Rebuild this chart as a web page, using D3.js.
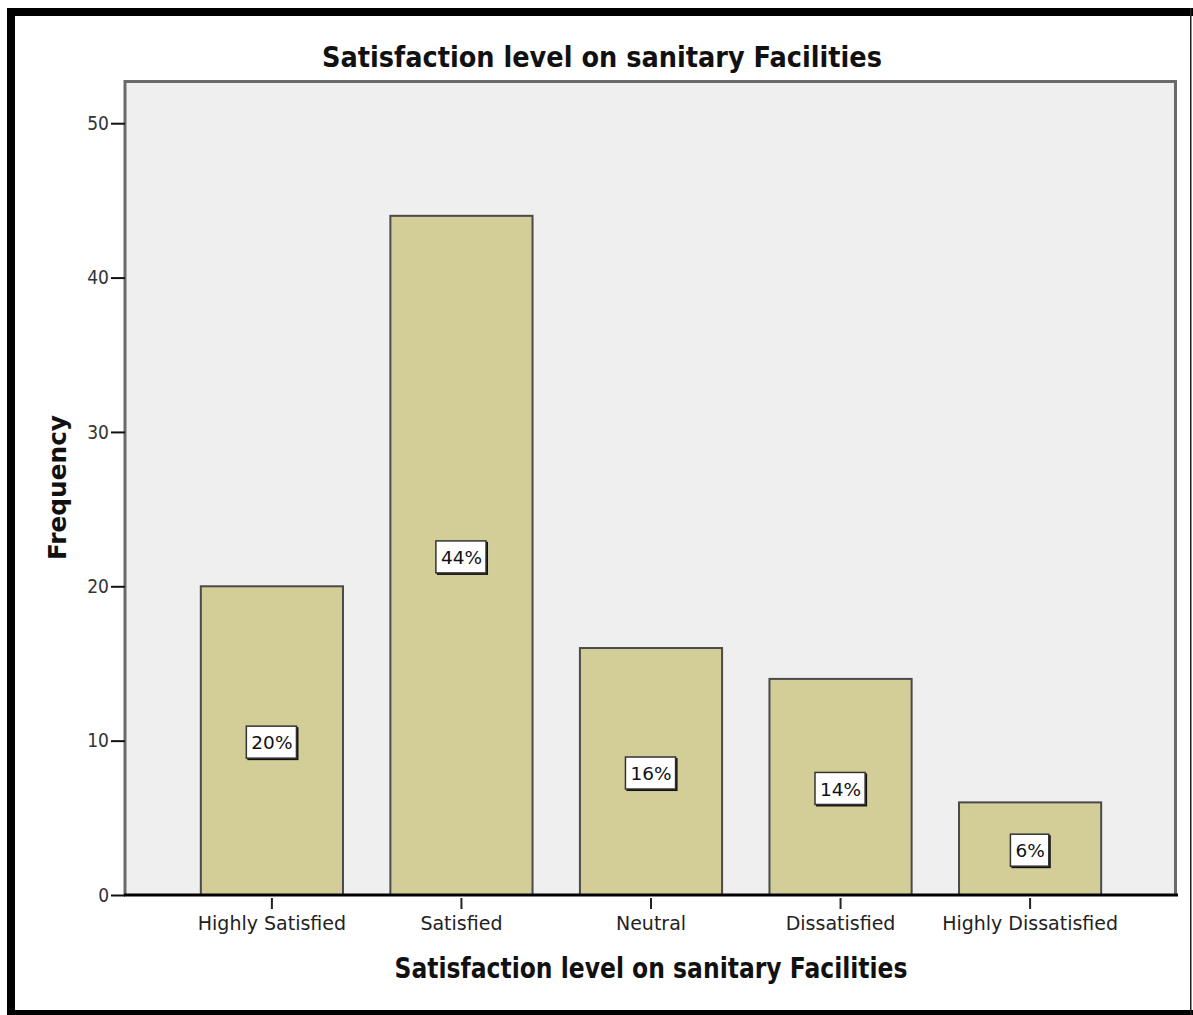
<!DOCTYPE html>
<html>
<head>
<meta charset="utf-8">
<script src="https://cdn.jsdelivr.net/npm/d3@7"></script>
<style>
  html, body { margin: 0; padding: 0; background: #ffffff; }
  svg { display: block; }
  text { font-family: "DejaVu Sans", sans-serif; }
</style>
</head>
<body>
<svg id="chart" width="1193" height="1015"></svg>
<script>
// Survey responses: satisfaction with sanitary facilities
const chartTitle = "Satisfaction level on sanitary Facilities";
const xTitle = "Satisfaction level on sanitary Facilities";
const yTitle = "Frequency";
const categories = ["Highly Satisfied", "Satisfied", "Neutral", "Dissatisfied", "Highly Dissatisfied"];
const frequencies = [20, 44, 16, 14, 6];
const yTicks = [0, 10, 20, 30, 40, 50];

const total = d3.sum(frequencies);
const percentLabels = frequencies.map(f => Math.round(f / total * 100) + "%");

const plot = { left: 125, right: 1177, top: 80, bottom: 895 };

const svg = d3.select("#chart");

// outer frame of the figure
svg.append("rect").attr("x", 7).attr("y", 8).attr("width", 8).attr("height", 1007).attr("fill", "#000");
svg.append("rect").attr("x", 7).attr("y", 8).attr("width", 1186).attr("height", 8).attr("fill", "#000");
svg.append("rect").attr("x", 7).attr("y", 1010).attr("width", 1186).attr("height", 5).attr("fill", "#000");
svg.append("rect").attr("x", 1190).attr("y", 8).attr("width", 1.5).attr("height", 1007).attr("fill", "#222");

const x = d3.scaleBand()
  .domain(categories)
  .range([plot.left, plot.right])
  .paddingInner(0.25)
  .paddingOuter(0.4);

const y = d3.scaleLinear()
  .domain([0, 52.8])
  .range([plot.bottom, plot.top]);

// plot background
svg.append("rect")
  .attr("x", plot.left).attr("y", plot.top)
  .attr("width", plot.right - plot.left).attr("height", plot.bottom - plot.top)
  .attr("fill", "#efefef");

// plot frame (top, left, right)
svg.append("path")
  .attr("d", `M${plot.left},${plot.bottom} V${plot.top + 1.5} H${plot.right - 1.5} V${plot.bottom}`)
  .attr("fill", "none")
  .attr("stroke", "#6a6a6a")
  .attr("stroke-width", 3);

// bars
svg.append("g").selectAll("rect")
  .data(frequencies)
  .join("rect")
  .attr("x", (d, i) => x(categories[i]))
  .attr("y", d => y(d))
  .attr("width", x.bandwidth())
  .attr("height", d => y(0) - y(d))
  .attr("fill", "#d3ce98")
  .attr("stroke", "#4a4a4a")
  .attr("stroke-width", 2);

// percentage labels inside bars
const lab = svg.append("g").selectAll("g")
  .data(frequencies)
  .join("g")
  .attr("transform", (d, i) => `translate(${x(categories[i]) + x.bandwidth() / 2},${(y(d) + y(0)) / 2 + 2})`);

lab.append("text")
  .attr("text-anchor", "middle")
  .attr("dy", "0.36em")
  .attr("font-size", 18.5)
  .attr("fill", "#111")
  .text((d, i) => percentLabels[i]);

lab.each(function () {
  const g = d3.select(this);
  const bb = g.select("text").node().getBBox();
  const w = bb.width + 10, h = 33;
  g.insert("rect", "text")
    .attr("x", -w / 2 + 1).attr("y", -h / 2 + 1)
    .attr("width", w).attr("height", h)
    .attr("fill", "#111");
  g.insert("rect", "text")
    .attr("x", -w / 2).attr("y", -h / 2)
    .attr("width", w - 1).attr("height", h - 1)
    .attr("fill", "#ffffff")
    .attr("stroke", "#333")
    .attr("stroke-width", 1.5);
});

// y axis
const yAxis = svg.append("g")
  .attr("transform", `translate(${plot.left},0)`)
  .call(d3.axisLeft(y).tickValues(yTicks).tickSize(14).tickPadding(2).tickFormat(d3.format("d")));
yAxis.select(".domain").remove();
yAxis.selectAll(".tick line").attr("stroke", "#111").attr("stroke-width", 2);
yAxis.selectAll(".tick text").attr("font-size", 19).attr("fill", "#333").attr("font-family", null)
  .attr("font-stretch", "condensed");

// x axis
const xAxis = svg.append("g")
  .attr("transform", `translate(0,${plot.bottom})`)
  .call(d3.axisBottom(x).tickSize(14).tickPadding(8));
xAxis.select(".domain")
  .attr("d", `M${plot.left - 1},0 H${plot.right + 1}`)
  .attr("stroke", "#000")
  .attr("stroke-width", 3);
xAxis.selectAll(".tick line").attr("stroke", "#222").attr("stroke-width", 2).attr("y1", 3);
xAxis.selectAll(".tick text").attr("font-size", 19).attr("fill", "#222").attr("font-family", null);

// titles
svg.append("text")
  .attr("x", 602).attr("y", 67)
  .attr("text-anchor", "middle")
  .attr("font-size", 29).attr("font-weight", "bold").attr("fill", "#111")
  .attr("textLength", 560).attr("lengthAdjust", "spacingAndGlyphs")
  .text(chartTitle);

svg.append("text")
  .attr("x", (plot.left + plot.right) / 2).attr("y", 978)
  .attr("text-anchor", "middle")
  .attr("font-size", 28).attr("font-weight", "bold").attr("fill", "#111")
  .attr("textLength", 513).attr("lengthAdjust", "spacingAndGlyphs")
  .text(xTitle);

svg.append("text")
  .attr("transform", `translate(66,${(plot.top + plot.bottom) / 2}) rotate(-90)`)
  .attr("text-anchor", "middle")
  .attr("font-size", 25).attr("font-weight", "bold").attr("fill", "#111")
  .attr("textLength", 145).attr("lengthAdjust", "spacingAndGlyphs")
  .text(yTitle);
</script>
</body>
</html>
